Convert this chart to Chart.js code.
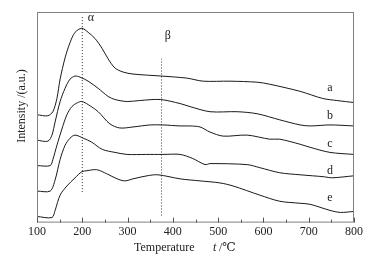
<!DOCTYPE html>
<html>
<head>
<meta charset="utf-8">
<script src="https://cdn.jsdelivr.net/npm/chart.js@4.4.0/dist/chart.umd.min.js"></script>
<style>
  body { margin: 0; background: #fff; }
  #wrap { width: 386px; height: 260px; }
</style>
</head>
<body>
<div id="wrap"><canvas id="tprChart"></canvas></div>
<script>
// curves (temperature / intensity, a.u.)
const aTemp = [100, 124, 135, 144, 151, 162, 173, 184, 199, 213, 228, 244, 257, 272, 290, 312, 376, 431, 467, 526, 586, 614, 681, 731, 762, 800];
const aInt  = [106, 105, 109, 122, 141, 162, 177, 187, 191, 187, 181, 171, 161, 152, 148, 146, 144, 142, 139, 139, 138, 136, 129, 122, 120, 118];

const bTemp = [100, 124, 133, 140, 151, 162, 173, 184, 195, 213, 235, 257, 272, 299, 327, 372, 416, 438, 482, 542, 586, 636, 681, 703, 747, 800];
const bInt  = [81, 80, 86, 99, 119, 132, 141, 144, 143, 139, 132, 124, 121, 119, 120, 121, 117, 114, 109, 109, 107, 101, 96, 95, 96, 95];

const cTemp = [100, 129, 135, 144, 155, 166, 177, 190, 199, 213, 235, 261, 283, 312, 350, 378, 416, 438, 460, 482, 511, 564, 614, 636, 681, 703, 747, 800];
const cInt  = [56, 56, 62, 76, 92, 106, 114, 118, 119, 116, 109, 97, 93, 94, 96, 96, 95, 95, 94, 89, 85, 86, 82, 82, 77, 74, 69, 67];

const dTemp = [100, 129, 140, 151, 162, 173, 184, 202, 221, 244, 272, 299, 340, 378, 416, 444, 471, 482, 564, 592, 636, 681, 735, 751, 800];
const dInt  = [31, 31, 42, 62, 76, 83, 86, 83, 79, 72, 69, 67, 67, 67, 67, 63, 57, 58, 57, 54, 49, 47, 45, 44, 46];

const eTemp = [100, 133, 140, 151, 166, 184, 199, 210, 232, 254, 277, 294, 312, 343, 367, 416, 460, 504, 533, 592, 636, 681, 703, 747, 770, 800];
const eInt  = [6, 5, 12, 27, 36, 44, 50, 51, 52, 48, 43, 41, 43, 46, 47, 43, 41, 39, 36, 27, 21, 19, 18, 12, 10, 11];

// peak markers
const peakNames = ["α", "β"];
const peakTemp = [200, 375];
const peakTop = [204, 161];
const peakBottom = [30, 7];

const curveNames = ["a", "b", "c", "d", "e"];
const curveLabelTemp = 747;
const curveLabelInt = [132, 105, 77, 51, 24];

const xTicks = [100, 200, 300, 400, 500, 600, 700, 800];
const xMinorTicks = [150, 250, 350, 450, 550, 650, 750];

function puntos(xs, ys) {
  return xs.map((x, i) => ({ x: x, y: ys[i] }));
}

const curvas = [[aTemp, aInt], [bTemp, bInt], [cTemp, cInt], [dTemp, dInt], [eTemp, eInt]];

const datasets = curvas.map((c) => ({
  data: puntos(c[0], c[1]),
  borderColor: "#1a1a1a",
  borderWidth: 1,
  pointRadius: 0,
  tension: 0.3,
  fill: false
}));

peakTemp.forEach((t, i) => {
  datasets.push({
    data: [{ x: t, y: peakBottom[i] }, { x: t, y: peakTop[i] }],
    borderColor: "#333",
    borderWidth: 1,
    borderDash: [1, 2],
    pointRadius: 0,
    fill: false
  });
});

const serif = "'Liberation Serif', 'DejaVu Serif', serif";

// frame, inward ticks and the text labels
const decoracion = {
  id: "decoracion",
  afterDraw(chart) {
    const c = chart.ctx;
    const area = chart.chartArea;
    const x = chart.scales.x;
    const y = chart.scales.y;
    c.save();
    c.strokeStyle = "#808080";
    c.lineWidth = 1;
    c.strokeRect(area.left + 0.5, area.top + 0.5, area.right - area.left - 1, area.bottom - area.top - 1);

    c.strokeStyle = "#555";
    c.beginPath();
    xTicks.forEach((t) => {
      const px = Math.round(x.getPixelForValue(t)) + 0.5;
      c.moveTo(px, area.bottom);
      c.lineTo(px, area.bottom - 5);
    });
    xMinorTicks.forEach((t) => {
      const px = Math.round(x.getPixelForValue(t)) + 0.5;
      c.moveTo(px, area.bottom);
      c.lineTo(px, area.bottom - 3);
    });
    c.stroke();

    c.fillStyle = "#222";
    c.font = "12px " + serif;
    c.textAlign = "center";
    c.textBaseline = "middle";
    curveNames.forEach((n, i) => {
      c.fillText(n, x.getPixelForValue(curveLabelTemp), y.getPixelForValue(curveLabelInt[i]));
    });
    c.fillText(peakNames[0], x.getPixelForValue(219), y.getPixelForValue(201));
    c.fillText(peakNames[1], x.getPixelForValue(389), y.getPixelForValue(184));

    // axis titles
    c.font = "12px " + serif;
    c.textAlign = "left";
    c.fillText("Temperature", 134, 248);
    c.font = "italic 12px " + serif;
    c.fillText("t", 213, 248);
    c.font = "12px " + serif;
    c.fillText(" /℃", 216, 248);

    c.translate(22, 106);
    c.rotate(-Math.PI / 2);
    c.textAlign = "center";
    c.fillText("Intensity /(a.u.)", 0, 0);
    c.restore();
  }
};

new Chart(document.getElementById("tprChart").getContext("2d"), {
  type: "line",
  data: { datasets: datasets },
  plugins: [decoracion],
  options: {
    responsive: true,
    maintainAspectRatio: false,
    animation: false,
    layout: { padding: { left: 37, right: 32, top: 12, bottom: 19 } },
    plugins: {
      legend: { display: false },
      tooltip: { enabled: false }
    },
    scales: {
      x: {
        type: "linear",
        min: 100,
        max: 800,
        grid: { display: false, drawTicks: false },
        border: { display: false },
        ticks: {
          stepSize: 100,
          padding: 2,
          color: "#222",
          font: { family: serif, size: 12 }
        }
      },
      y: {
        display: false,
        min: 0,
        max: 207
      }
    }
  }
});
</script>
</body>
</html>
